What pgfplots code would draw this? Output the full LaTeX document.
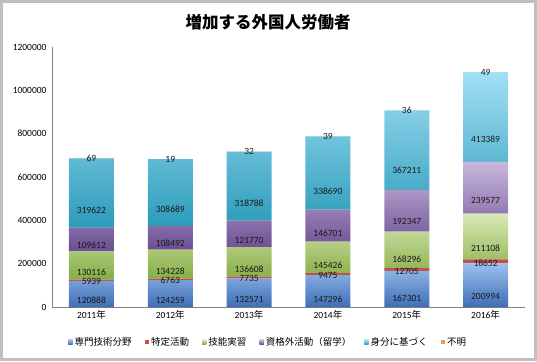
\documentclass[border=0pt]{standalone}
\usepackage{pgfplots}
\pgfplotsset{compat=1.18}
\usepackage{fontspec}
\setmainfont{Carlito}
\newfontfamily\cjk{Noto Sans CJK JP}
\definecolor{bA}{HTML}{3F6EB6}\definecolor{bAl}{HTML}{9CC0EE}
\definecolor{gA}{HTML}{86AD45}\definecolor{gAl}{HTML}{D8E8B5}
\definecolor{pA}{HTML}{6A4D92}\definecolor{pAl}{HTML}{C9B8DD}
\definecolor{cA}{HTML}{2B9BBA}\definecolor{cAl}{HTML}{A2E0F4}
\definecolor{rA}{HTML}{C0504D}
\definecolor{oA}{HTML}{F79646}
\pgfplotstableread{
x a b c d e f
0 120888 5939 130116 109612 319622 69
1 124259 6763 134228 108492 308689 19
2 132571 7735 136608 121770 318788 32
3 147296 9475 145426 146701 338690 39
4 167301 12705 168296 192347 367211 36
5 200994 18652 211108 239577 413389 49
}\data
\begin{document}
\begin{tikzpicture}
\useasboundingbox (-52pt,-54pt) rectangle (485pt,307pt);
\draw[black!25,line width=2.5pt] (-50.5pt,-52.5pt) rectangle (483.5pt,305.5pt);
\node[font=\cjk\bfseries\fontsize{16.5}{18}\selectfont] at (216pt,285pt) {増加する外国人労働者};
\begin{axis}[
  at={(0,0)}, anchor=south west,
  scale only axis, width=473pt, height=260pt,
  ybar stacked, bar width=45pt,
  xmin=-0.5, xmax=5.5, ymin=0, ymax=1200000,
  xtick={0,...,5},
  xticklabels={2011{\cjk 年},2012{\cjk 年},2013{\cjk 年},2014{\cjk 年},2015{\cjk 年},2016{\cjk 年}},
  ytick={0,200000,...,1200000},
  scaled y ticks=false,
  yticklabel style={/pgf/number format/fixed,/pgf/number format/1000 sep={},/pgf/number format/assume math mode=true},
  tick label style={font=\fontsize{9.5}{10}\selectfont},
  axis x line*=bottom, axis y line*=left,
  axis line style={black!50},
  x axis line style={-}, y axis line style={-},
  tick style={draw=none},
  yticklabel style={xshift=-2pt},
  nodes near coords,
  visualization depends on={rawy*0.0000541667 \as \hs},
  every node near coord/.append style={font=\fontsize{9.5}{10}\selectfont, text=black!90, anchor=center, inner sep=1pt, yshift=-\hs pt},
  point meta=rawy,
  nodes near coords={\pgfmathprintnumber[fixed,1000 sep={},assume math mode=true]{\pgfplotspointmeta}},
  legend style={at={(0.457,-0.135)}, anchor=center, draw=none, legend columns=6,
    font=\cjk\fontsize{9.5}{11}\selectfont, /tikz/every even column/.append style={column sep=11pt}},
  legend image code/.code={\fill[#1] (0pt,-2.2pt) rectangle (4.4pt,2.2pt);},
]
\addplot[draw=none, top color=bAl, bottom color=bA] table[x=x,y=a]{\data};
\addplot[draw=none, fill=rA, every node near coord/.append style={yshift=-1pt}] table[x=x,y=b]{\data};
\addplot[draw=none, top color=gAl, bottom color=gA] table[x=x,y=c]{\data};
\addplot[draw=none, top color=pAl, bottom color=pA] table[x=x,y=d]{\data};
\addplot[draw=none, top color=cAl, bottom color=cA] table[x=x,y=e]{\data};
\addplot[draw=none, fill=oA] table[x=x,y=f]{\data};
\legend{専門技術分野,特定活動,技能実習,資格外活動（留学）,身分に基づく,不明}
\end{axis}
\end{tikzpicture}
\end{document}
